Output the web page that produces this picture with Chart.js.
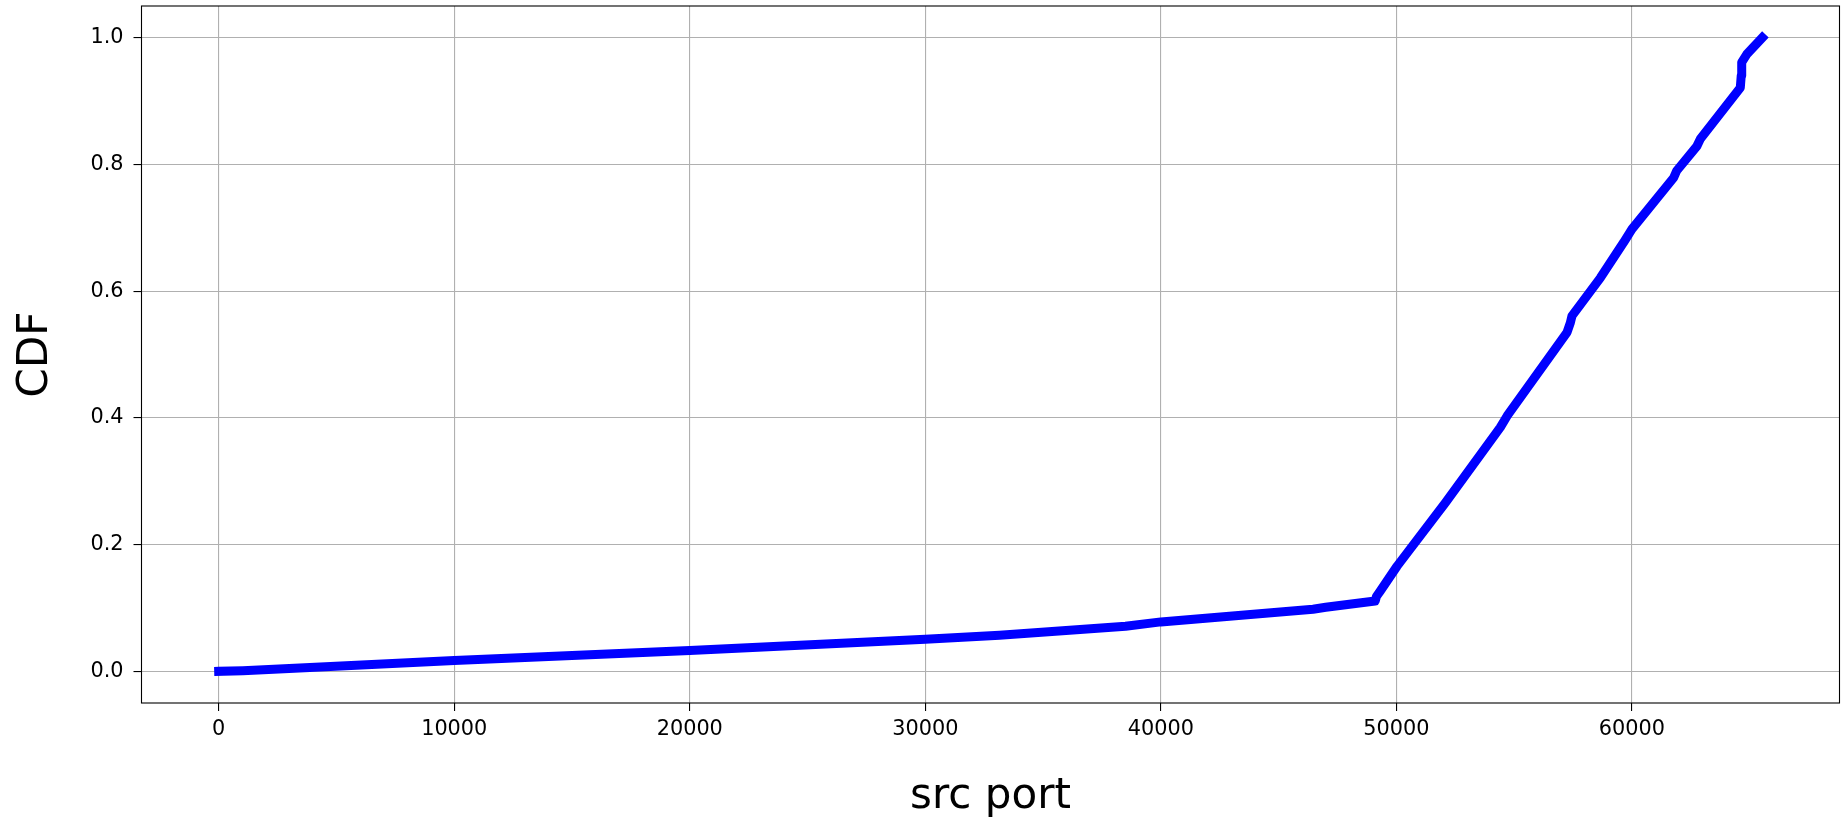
<!DOCTYPE html>
<html>
<head>
<meta charset="utf-8">
<script src="https://cdn.jsdelivr.net/npm/chart.js@4"></script>
<style>
  html, body { margin: 0; padding: 0; background: #ffffff; }
  #c { display: block; }
</style>
</head>
<body>
<canvas id="c" width="1843" height="822"></canvas>
<script>
// ---- data ----
const srcPorts = [0, 1024, 10000, 20000, 30000, 33150, 38500, 40000, 46460, 47000, 49100, 49152, 49320, 50030, 52080, 54410, 54700, 57245, 57385, 57455, 58660, 59650, 60000, 61770, 61900, 62760, 62900, 64600, 64640, 64660, 64880, 65535];
const cdfValues = [0, 0.001, 0.017, 0.033, 0.0505, 0.057, 0.071, 0.078, 0.098, 0.101, 0.111, 0.118, 0.127, 0.166, 0.266, 0.385, 0.403, 0.535, 0.55, 0.561, 0.621, 0.677, 0.698, 0.779, 0.79, 0.829, 0.84, 0.921, 0.94, 0.961, 0.974, 1.0];
const xTickValues = [0, 10000, 20000, 30000, 40000, 50000, 60000];
const yTickValues = [0.0, 0.2, 0.4, 0.6, 0.8, 1.0];
const xLabel = 'src port';
const yLabel = 'CDF';

const points = srcPorts.map((p, i) => ({ x: p, y: cdfValues[i] }));
const xSpan = srcPorts[srcPorts.length - 1] - srcPorts[0];

const frame = {
  id: 'frame',
  afterDatasetsDraw(chart) {
    const { ctx, chartArea: a } = chart;
    ctx.save();
    ctx.strokeStyle = '#000000';
    ctx.lineWidth = 1.1;
    ctx.strokeRect(a.left, a.top, a.right - a.left, a.bottom - a.top);
    ctx.restore();
  }
};

new Chart(document.getElementById('c'), {
  type: 'line',
  data: {
    datasets: [{
      data: points,
      borderColor: '#0000ff',
      borderWidth: 9,
      borderCapStyle: 'square',
      borderJoinStyle: 'round',
      pointRadius: 0,
      fill: false,
      tension: 0
    }]
  },
  options: {
    responsive: false,
    devicePixelRatio: 1,
    animation: false,
    events: [],
    layout: { padding: { top: 6, right: 3.5, left: 0, bottom: 0 } },
    plugins: { legend: { display: false }, tooltip: { enabled: false } },
    scales: {
      x: {
        type: 'linear',
        min: srcPorts[0] - 0.05 * xSpan,
        max: srcPorts[srcPorts.length - 1] + 0.05 * xSpan,
        afterBuildTicks(scale) { scale.ticks = xTickValues.map(v => ({ value: v })); },
        afterFit(scale) { scale.height = 119; scale.paddingLeft = 0; scale.paddingRight = 0; },
        ticks: {
          font: { family: 'DejaVu Sans', size: 20.8 },
          color: '#000000',
          padding: 6,
          maxRotation: 0,
          autoSkip: false,
          callback: v => String(v)
        },
        grid: { color: '#b0b0b0', lineWidth: 1.1, tickLength: 8, tickColor: '#000000', tickWidth: 1.1 },
        border: { display: false },
        title: {
          display: true,
          text: xLabel,
          font: { family: 'DejaVu Sans', size: 42, lineHeight: 1.1 },
          color: '#000000',
          padding: { top: 0, bottom: 1.4 }
        }
      },
      y: {
        type: 'linear',
        min: -0.05,
        max: 1.05,
        afterBuildTicks(scale) { scale.ticks = yTickValues.map(v => ({ value: v })); },
        afterFit(scale) { scale.width = 141.5; scale.paddingTop = 0; scale.paddingBottom = 0; },
        ticks: {
          font: { family: 'DejaVu Sans', size: 20.8 },
          color: '#000000',
          padding: 10,
          autoSkip: false,
          callback: v => Number(v).toFixed(1)
        },
        grid: { color: '#b0b0b0', lineWidth: 1.1, tickLength: 8, tickColor: '#000000', tickWidth: 1.1 },
        border: { display: false },
        title: {
          display: true,
          text: yLabel,
          font: { family: 'DejaVu Sans', size: 42 },
          color: '#000000',
          padding: { top: 10.5, bottom: 0 }
        }
      }
    }
  },
  plugins: [frame]
});
</script>
</body>
</html>
